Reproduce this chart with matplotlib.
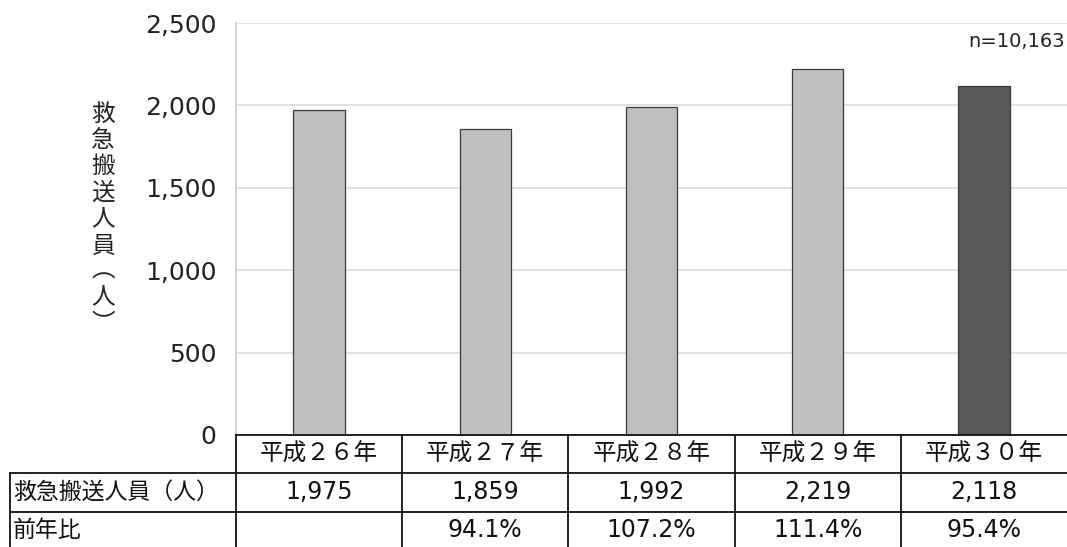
import matplotlib
matplotlib.use("Agg")
import matplotlib.pyplot as plt
import numpy as np

years = ["平成２６年", "平成２７年", "平成２８年", "平成２９年", "平成３０年"]
counts = [1975, 1859, 1992, 2219, 2118]
count_labels = ["1,975", "1,859", "1,992", "2,219", "2,118"]
ratio_labels = ["", "94.1%", "107.2%", "111.4%", "95.4%"]
yticks = [0, 500, 1000, 1500, 2000, 2500]
ytick_labels = ["0", "500", "1,000", "1,500", "2,000", "2,500"]
row_labels = ["救急搬送人員（人）", "前年比"]
ylabel_text = "救急搬送人員︵人︶"
note = "n=10,163"

W, H = 1067, 547
JP = ["Noto Sans CJK JP", "DejaVu Sans"]
NUM = ["DejaVu Sans", "Noto Sans CJK JP"]

fig = plt.figure(figsize=(W / 100, H / 100), dpi=100)

ax_l, ax_r, ax_t, ax_b = 236, 1067, 23, 435
ax = fig.add_axes([ax_l / W, 1 - ax_b / H, (ax_r - ax_l) / W, (ax_b - ax_t) / H])

x = np.arange(len(years))
colors = ["#BFBFBF"] * (len(years) - 1) + ["#595959"]
ax.bar(x, counts, width=0.31, color=colors, edgecolor="#3A3A3A", linewidth=0.9, zorder=3)
ax.set_xlim(-0.5, len(years) - 0.5)
ax.set_ylim(0, 2500)
ax.set_yticks(yticks)
ax.set_yticklabels(ytick_labels, fontsize=18, family=NUM, color="#222222")
ax.tick_params(axis="y", length=0, pad=14)
ax.set_xticks([])
ax.grid(axis="y", color="#D9D9D9", linewidth=1.1, zorder=0)
for s in ["top", "right", "bottom"]:
    ax.spines[s].set_visible(False)
ax.spines["left"].set_color("#C8C8C8")
ax.spines["left"].set_linewidth(1.1)

ax.text(0.997, 0.955, note, transform=ax.transAxes, ha="right", va="center",
        fontsize=14, family=NUM, color="#222222")

fig.text(103 / W, 1 - 219 / H, "\n".join(ylabel_text), ha="center", va="center",
         fontsize=17, family=JP, linespacing=1.17, color="#222222")

# table overlay in pixel coordinates
ov = fig.add_axes([0, 0, 1, 1], facecolor="none")
ov.set_xlim(0, W)
ov.set_ylim(H, 0)
ov.axis("off")

col_edges = np.linspace(ax_l, ax_r, len(years) + 1)
row_y = [435, 473, 512, 560]
lc = "#111111"
lw = 1.3
ov.plot([ax_l, W], [row_y[0], row_y[0]], color=lc, lw=lw)
for yy in row_y[1:3]:
    ov.plot([10, W], [yy, yy], color=lc, lw=lw)
ov.plot([10, 10], [row_y[1], H], color=lc, lw=lw)
for xe in col_edges[:-1]:
    ov.plot([xe, xe], [row_y[0], H], color=lc, lw=lw)

centers = (col_edges[:-1] + col_edges[1:]) / 2
rc = [(row_y[i] + row_y[i + 1]) / 2 for i in range(3)]
rc[2] = 530
for i in range(len(years)):
    ov.text(centers[i], rc[0], years[i], ha="center", va="center", fontsize=17, family=JP, color="#111111")
    ov.text(centers[i], rc[1], count_labels[i], ha="center", va="center", fontsize=17, family=NUM, color="#111111")
    ov.text(centers[i], rc[2], ratio_labels[i], ha="center", va="center", fontsize=17, family=NUM, color="#111111")
ov.text(13, rc[1], row_labels[0], ha="left", va="center", fontsize=16.5, family=JP, color="#111111")
ov.text(13, rc[2], row_labels[1], ha="left", va="center", fontsize=16.5, family=JP, color="#111111")

fig.savefig("out.png", dpi=100)
